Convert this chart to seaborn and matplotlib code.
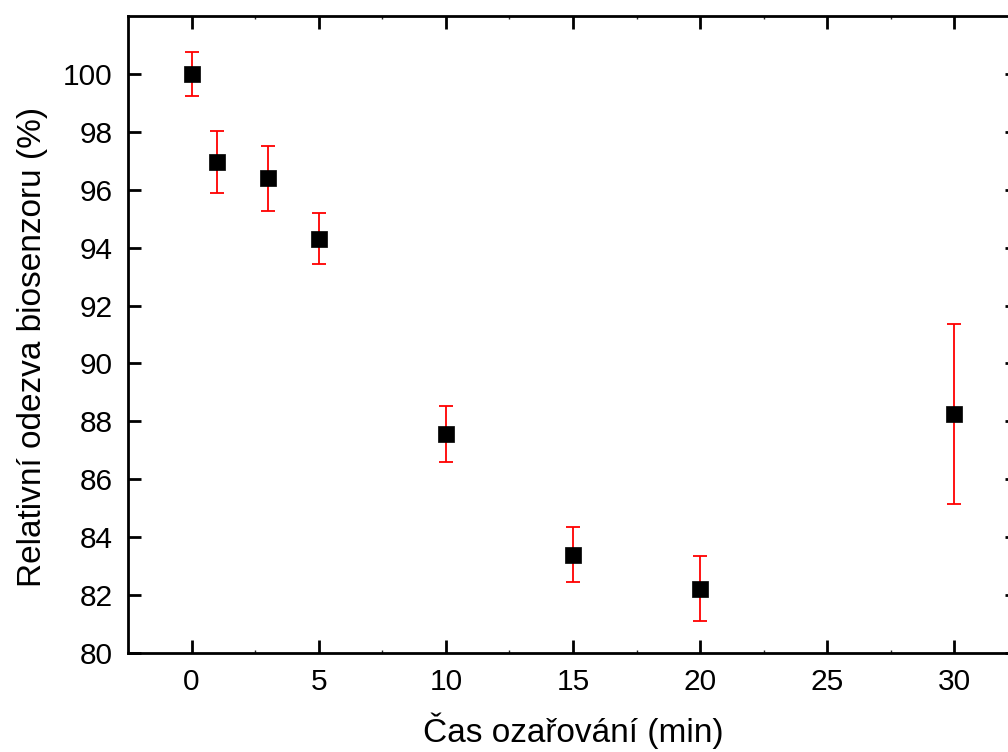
import matplotlib
matplotlib.use("Agg")
import matplotlib.pyplot as plt
import seaborn as sns
import pandas as pd
from matplotlib.ticker import MultipleLocator

time_min = [0, 1, 3, 5, 10, 15, 20, 30]
response = [100.0, 96.96, 96.39, 94.30, 87.56, 83.39, 82.22, 88.25]
error = [0.77, 1.06, 1.13, 0.88, 0.96, 0.95, 1.12, 3.12]
x_ticks = [0, 5, 10, 15, 20, 25, 30]
y_ticks = [80, 82, 84, 86, 88, 90, 92, 94, 96, 98, 100]

df = pd.DataFrame({"t": time_min, "r": response, "e": error})

sns.set_theme(style="ticks")
plt.rcParams["font.family"] = ["Liberation Sans", "DejaVu Sans"]
plt.rcParams["text.color"] = "black"
plt.rcParams["axes.labelcolor"] = "black"

fig = plt.figure(figsize=(10.08, 7.52), dpi=100)
ax = fig.add_axes([128 / 1008, 1 - 653 / 752, (1018 - 128) / 1008, (653 - 16) / 752])

ax.errorbar(df["t"], df["r"], yerr=df["e"], fmt="none", ecolor="#ff0000",
            elinewidth=1.3, capsize=4.7, capthick=1.3, zorder=2)
sns.scatterplot(data=df, x="t", y="r", marker="s", s=120, color="black",
                edgecolor="black", linewidth=0.5, ax=ax, zorder=3)

ax.set_xlim(-2.5, 32.5)
ax.set_ylim(80, 102)
ax.set_xticks(x_ticks)
ax.set_yticks(y_ticks)
ax.xaxis.set_minor_locator(MultipleLocator(2.5))
for s in ax.spines.values():
    s.set_linewidth(2.0)
    s.set_color("black")
    s.set_visible(True)
ax.tick_params(which="major", direction="in", length=9.5, width=2.0,
               labelsize=21.5, top=True, right=True, pad=11,
               colors="black", labelcolor="black")
ax.tick_params(axis="x", which="minor", direction="in", length=2, width=1,
               top=True, bottom=True)
ax.tick_params(axis="y", which="minor", left=False, right=False)

ax.set_xlabel("Čas ozařování (min)", fontsize=24, labelpad=12, color="black")
ax.set_ylabel("Relativní odezva biosenzoru (%)", fontsize=24, color="black")
ax.yaxis.set_label_coords(-0.09, 0.48)

fig.savefig("out.png", dpi=100)
